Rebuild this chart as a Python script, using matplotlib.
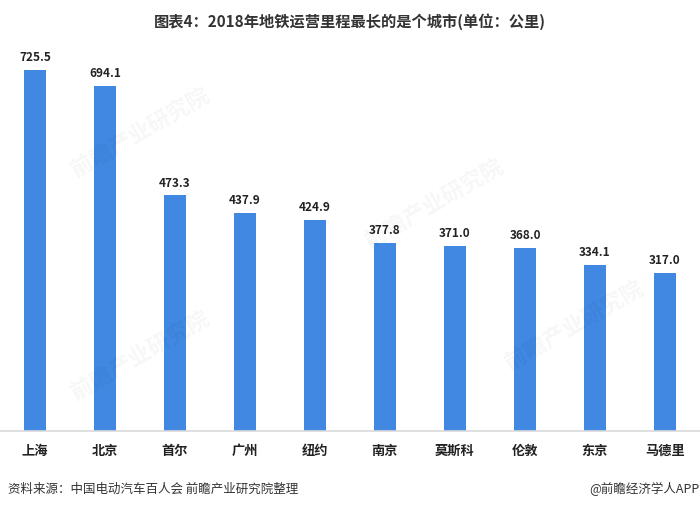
import matplotlib
matplotlib.use("Agg")
import matplotlib.pyplot as plt

plt.rcParams['font.family'] = ['Noto Sans CJK SC', 'DejaVu Sans']

cities = ["上海", "北京", "首尔", "广州", "纽约", "南京", "莫斯科", "伦敦", "东京", "马德里"]
values = [725.5, 694.1, 473.3, 437.9, 424.9, 377.8, 371.0, 368.0, 334.1, 317.0]

title = "图表4：2018年地铁运营里程最长的是个城市(单位：公里)"
source = "资料来源：中国电动汽车百人会 前瞻产业研究院整理"
credit = "@前瞻经济学人APP"
watermark = "前瞻产业研究院"

W, H = 700, 508
fig = plt.figure(figsize=(W/100, H/100), dpi=100)
base_px = 431
ymax = 800
scale = 0.4976
ax_h = ymax * scale
ax = fig.add_axes([0, (H - base_px)/H, 1, ax_h/H])

x = list(range(len(cities)))
ax.bar(x, values, width=22/70, color="#4088E2", zorder=2)
ax.set_xlim(-0.5, len(cities) - 0.5)
ax.set_ylim(0, ymax)
for xi, v in zip(x, values):
    ax.text(xi, v + 12, f"{v:.1f}", ha="center", va="bottom", fontsize=8.5,
            fontweight="bold", color="#222222")
ax.set_xticks(x)
ax.set_xticklabels(cities, fontsize=9.5, fontweight="bold", color="#222222")
ax.tick_params(axis="x", length=0, pad=9)
ax.set_yticks([])
for s in ["top", "right", "left"]:
    ax.spines[s].set_visible(False)
ax.spines["bottom"].set_color("#d9d9d9")
ax.spines["bottom"].set_linewidth(1.2)

# faint watermarks
for (wx, wy) in [(0.20, 0.74), (0.62, 0.60), (0.20, 0.30), (0.82, 0.36)]:
    fig.text(wx, wy, watermark, fontsize=16, color="#000000", alpha=0.035,
             rotation=30, ha="center", va="center", fontweight="bold")

fig.text(0.5, 1 - 22/H, title, ha="center", va="center", fontsize=11,
         fontweight="bold", color="#333333")
fig.text(8/W, 1 - 489/H, source, ha="left", va="center", fontsize=9, color="#333333")
fig.text(1.0, 1 - 489/H, credit, ha="right", va="center", fontsize=9, color="#333333")

fig.savefig("out.png", dpi=100)
